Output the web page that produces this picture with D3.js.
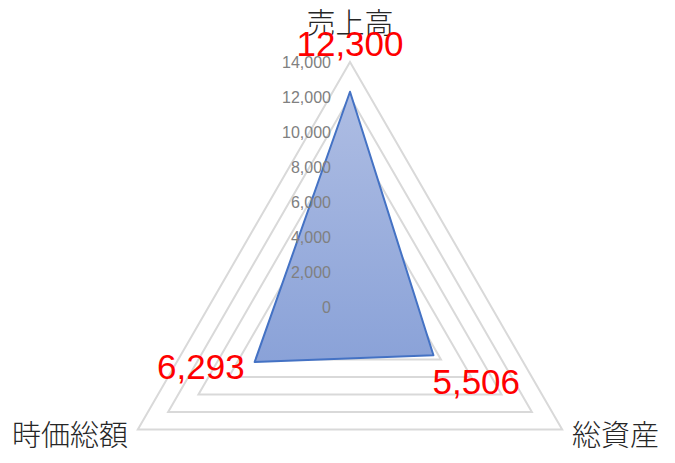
<!DOCTYPE html>
<html><head><meta charset="utf-8">
<script src="https://cdn.jsdelivr.net/npm/d3@7"></script>
<style>html,body{margin:0;padding:0;background:#fff;}svg{display:block;}</style>
</head><body>
<svg id="chart" width="675" height="463"></svg>
<script>
const categories = ["売上高", "総資産", "時価総額"];
const values = [12300, 5506, 6293];
const ticks = [0, 2000, 4000, 6000, 8000, 10000, 12000, 14000];

const svg = d3.select("#chart");
const cx = 350, cy = 307, R = 245;
const r = d3.scaleLinear().domain([0, 14000]).range([0, R]);
const angle = i => -Math.PI / 2 + i * 2 * Math.PI / categories.length;
const pt = (i, v) => [cx + r(v) * Math.cos(angle(i)), cy + r(v) * Math.sin(angle(i))];

const defs = svg.append("defs");
const grad = defs.append("linearGradient").attr("id", "fillGrad")
  .attr("x1", 0).attr("y1", 0).attr("x2", 0).attr("y2", 1);
grad.append("stop").attr("offset", "0%").attr("stop-color", "#aebde3");
grad.append("stop").attr("offset", "100%").attr("stop-color", "#8aa2d8");

const line = d3.line().curve(d3.curveLinearClosed);

// grid triangles
svg.append("g").selectAll("path").data(ticks.filter(t => t > 0)).join("path")
  .attr("d", t => line(categories.map((c, i) => pt(i, t))))
  .attr("fill", "none").attr("stroke", "#d9d9d9").attr("stroke-width", 2);

// data polygon
svg.append("path")
  .attr("d", line(values.map((v, i) => pt(i, v))))
  .attr("fill", "url(#fillGrad)").attr("stroke", "#4472c4").attr("stroke-width", 2)
  .attr("stroke-linejoin", "round");

// tick labels
const fmt = d3.format(",");
svg.append("g").selectAll("text").data(ticks).join("text")
  .attr("x", cx - 19).attr("y", t => cy - r(t))
  .attr("text-anchor", "end").attr("dominant-baseline", "central")
  .attr("font-family", "'Liberation Sans', Arial, sans-serif").attr("font-size", 16)
  .attr("fill", "#808080").text(t => fmt(t));

// category labels
const catPos = [
  {x: cx, y: 21, anchor: "middle"},
  {x: 572, y: 433, anchor: "start"},
  {x: 128, y: 433, anchor: "end"}
];
svg.append("g").selectAll("text").data(categories).join("text")
  .attr("x", (d, i) => catPos[i].x).attr("y", (d, i) => catPos[i].y)
  .attr("text-anchor", (d, i) => catPos[i].anchor).attr("dominant-baseline", "central")
  .attr("font-family", "'Noto Sans CJK JP', sans-serif").attr("font-size", 29)
  .attr("font-weight", 300)
  .attr("fill", "#262626").text(d => d);

// data labels
const lblOff = [
  {dx: 0, dy: -48, anchor: "middle"},
  {dx: -1, dy: 26, anchor: "start"},
  {dx: -10, dy: 4, anchor: "end"}
];
svg.append("g").selectAll("text").data(values).join("text")
  .attr("x", (v, i) => pt(i, v)[0] + lblOff[i].dx)
  .attr("y", (v, i) => pt(i, v)[1] + lblOff[i].dy)
  .attr("text-anchor", (v, i) => lblOff[i].anchor).attr("dominant-baseline", "central")
  .attr("font-family", "'Liberation Sans', Arial, sans-serif").attr("font-size", 35)
  .attr("fill", "#ff0000").text(v => fmt(v));
</script>
</body></html>
